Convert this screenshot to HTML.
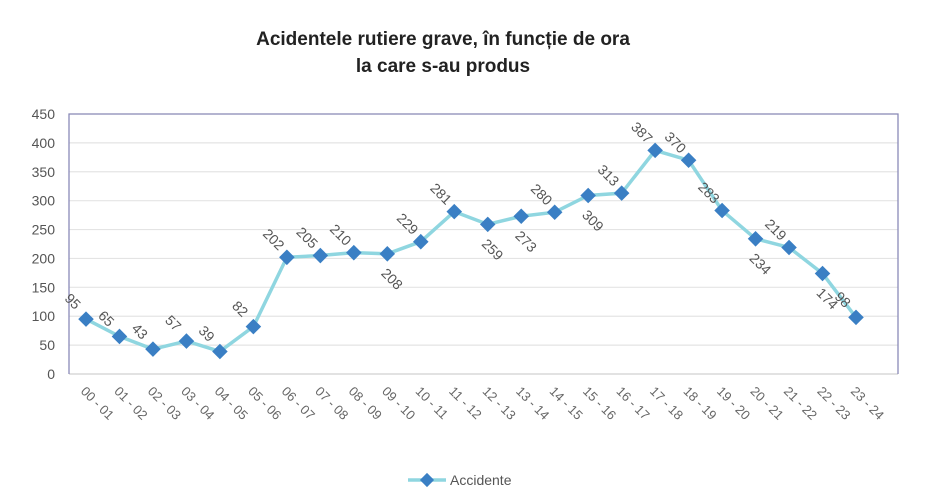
<!DOCTYPE html>
<html><head><meta charset="utf-8"><style>
body{margin:0;background:#fff;font-family:"Liberation Sans",sans-serif}
svg{display:block}
</style></head><body>
<svg width="945" height="504" viewBox="0 0 945 504">
<text x="443" y="45" text-anchor="middle" font-size="19" font-weight="bold" fill="#222">Acidentele rutiere grave, în funcție de ora</text>
<text x="443" y="72" text-anchor="middle" font-size="19" font-weight="bold" fill="#222">la care s-au produs</text>
<g id="grid"></g><g id="axes"></g><g id="series"></g><g id="labels"></g>
<g>
<line x1="408" y1="480" x2="446" y2="480" stroke="#8fd6e0" stroke-width="3.5"/>
<rect x="422" y="475" width="10" height="10" fill="#3a7fc4" transform="rotate(45 427 480)"/>
<text x="450" y="485" font-size="14" fill="#555">Accidente</text>
</g>
</svg>
<script>
const categories=["00 - 01","01 - 02","02 - 03","03 - 04","04 - 05","05 - 06","06 - 07","07 - 08","08 - 09","09 - 10","10 - 11","11 - 12","12 - 13","13 - 14","14 - 15","15 - 16","16 - 17","17 - 18","18 - 19","19 - 20","20 - 21","21 - 22","22 - 23","23 - 24"];
const values=[95,65,43,57,39,82,202,205,210,208,229,281,259,273,280,309,313,387,370,283,234,219,174,98];
const ticks=[0,50,100,150,200,250,300,350,400,450];
const below=[9,12,13,15,20,22];
const NS="http://www.w3.org/2000/svg";
const x0=86,step=(856-86)/23,y0=374,yTop=114,left=69,right=898;
const xs=i=>x0+i*step, ys=v=>y0-(v/450)*(y0-yTop);
function mk(t,a,p){const e=document.createElementNS(NS,t);for(const k in a)e.setAttribute(k,a[k]);p.appendChild(e);return e;}
const grid=document.getElementById('grid'),axes=document.getElementById('axes'),ser=document.getElementById('series'),lab=document.getElementById('labels');
ticks.forEach(t=>{
 const l=mk('line',{x1:left,x2:right,y1:ys(t),y2:ys(t),stroke:t===0?'#d0d0d0':'#e4e4e4','stroke-width':1.2},grid);
 
 
 const tx=mk('text',{x:55,y:ys(t)+5,'text-anchor':'end','font-size':14,fill:'#555'},axes);tx.textContent=t;
 
 
});
const ax=mk('path',{d:`M${left} ${y0}V${yTop}H${right}V${y0}`,fill:'none',stroke:'#8a8ab8','stroke-width':1.3},axes);


categories.forEach((c,i)=>{
 const x=xs(i)-6,y=392;
 const t=mk('text',{x:x,y:y,'font-size':13,fill:'#666',transform:`rotate(45 ${x} ${y})`},axes);t.textContent=c;
 
 
});
const pl=mk('polyline',{points:values.map((v,i)=>xs(i)+','+ys(v)).join(' '),fill:'none',stroke:'#8fd6e0','stroke-width':3.5},ser);


values.forEach((v,i)=>{
 const x=xs(i),y=ys(v);
 const r=mk('rect',{x:x-5.5,y:y-5.5,width:11,height:11,fill:'#3a7fc4',transform:`rotate(45 ${x} ${y})`},ser);
 
 
 const b=below.includes(i);
 const lx=b?x+4:x-14,ly=b?y+26:y-17;
 const t=mk('text',{x:lx,y:ly,'text-anchor':'middle','dominant-baseline':'middle','font-size':14,fill:'#555',transform:`rotate(45 ${lx} ${ly})`},lab);t.textContent=v;
 
 
});
</script>
</body></html>
